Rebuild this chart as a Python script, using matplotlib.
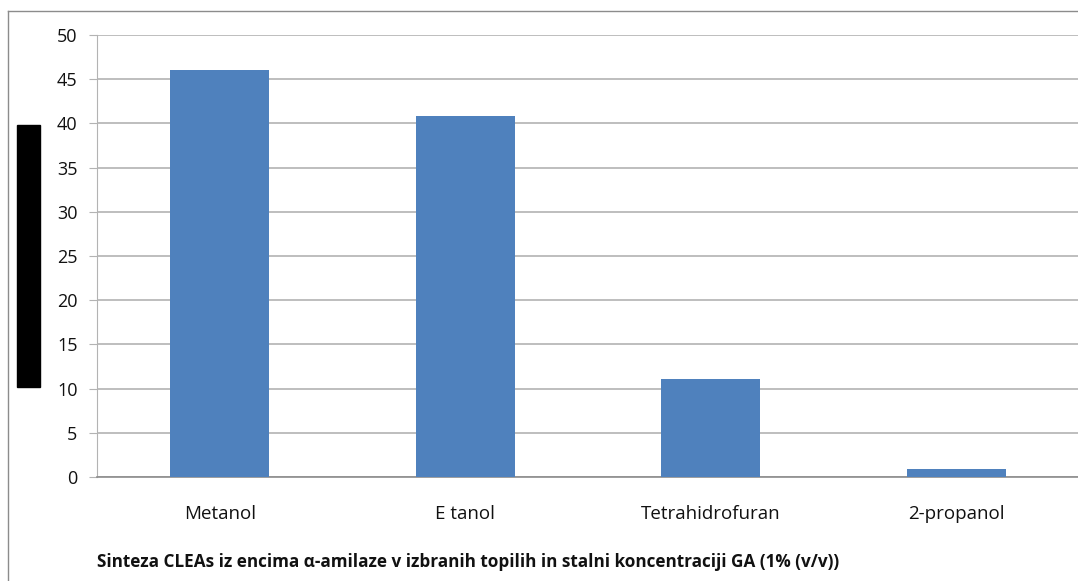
import matplotlib
matplotlib.use("Agg")
import matplotlib.pyplot as plt
from matplotlib.patches import Rectangle
from matplotlib.lines import Line2D

categories = ["Metanol", "E tanol", "Tetrahidrofuran", "2-propanol"]
values = [46.0, 40.8, 11.1, 0.9]
yticks = [0, 5, 10, 15, 20, 25, 30, 35, 40, 45, 50]
caption = "Sinteza CLEAs iz encima α-amilaze v izbranih topilih in stalni koncentraciji GA (1% (v/v))"

W, H = 1078, 581
fig = plt.figure(figsize=(W / 100, H / 100), dpi=100)
fig.patch.set_facecolor("white")
font = ["Open Sans", "DejaVu Sans"]

ax = fig.add_axes([97 / W, 1 - 477 / H, (1079 - 97) / W, (477 - 35) / H])
x = list(range(len(categories)))
ax.bar(x, values, width=0.405, color="#4f81bd", zorder=3)
ax.set_xlim(-0.5, len(categories) - 0.5)
ax.set_ylim(0, 50)
ax.set_yticks(yticks)
ax.set_yticklabels([str(t) for t in yticks], fontsize=13, family=font)
ax.set_xticks(x)
ax.set_xticklabels(categories, fontsize=13.5, family=font)
ax.yaxis.grid(True, color="#b3b3b3", linewidth=1.2, zorder=0)
ax.set_axisbelow(True)
for s in ["top", "right"]:
    ax.spines[s].set_visible(False)
ax.spines["left"].set_color("#b3b3b3")
ax.spines["bottom"].set_color("#8c8c8c")
ax.spines["bottom"].set_linewidth(1.2)
ax.tick_params(axis="y", length=6, color="#b3b3b3", pad=8, labelcolor="#111111")
ax.tick_params(axis="x", length=0, pad=20, labelcolor="#111111")

fig.text(97 / W, 1 - 562 / H, caption, fontsize=12.3, fontweight="bold",
         family=font, ha="left", va="center", color="#111111")

# outer frame (left and top edges)
fig.add_artist(Line2D([8 / W, 8 / W], [0, 1 - 11 / H], transform=fig.transFigure,
                      color="#8c8c8c", linewidth=1))
fig.add_artist(Line2D([8 / W, 1], [1 - 11 / H, 1 - 11 / H], transform=fig.transFigure,
                      color="#8c8c8c", linewidth=1))

# blacked-out axis title block
fig.add_artist(Rectangle((17 / W, 1 - 387 / H), 23 / W, 262 / H,
                         transform=fig.transFigure, color="black"))

fig.savefig("out.png", dpi=100, facecolor="white")
